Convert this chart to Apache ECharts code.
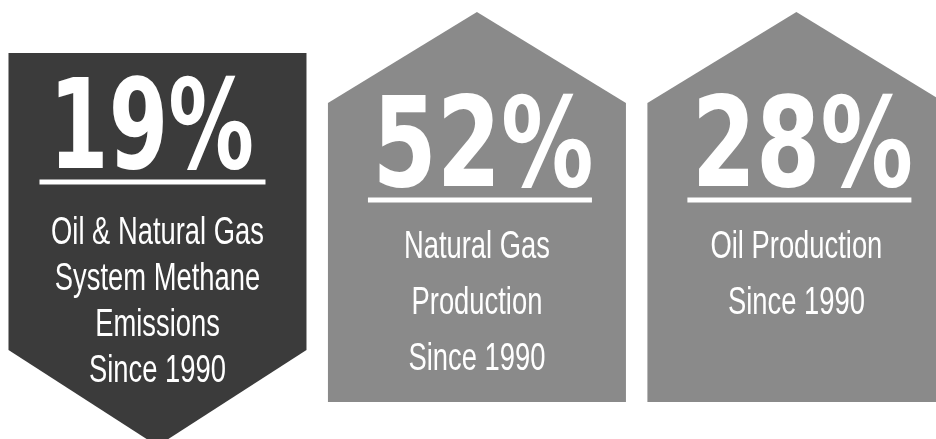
<!DOCTYPE html>
<html>
<head>
<meta charset="utf-8">
<style>
  html, body { margin: 0; padding: 0; background: #ffffff; }
  #chart { width: 936px; height: 439px; }
</style>
<script src="https://cdn.jsdelivr.net/npm/echarts@6/dist/echarts.min.js"></script>
</head>
<body>
<div id="chart"></div>
<script>
// Percentage change since 1990 for each indicator
const categories = ['Methane Emissions', 'Natural Gas Production', 'Oil Production'];
const percentChange = [19, 52, 28];
const captions = [
  ['Oil & Natural Gas', 'System Methane', 'Emissions', 'Since 1990'],
  ['Natural Gas', 'Production', 'Since 1990'],
  ['Oil Production', 'Since 1990']
];
// Badge shape: 'down' = chevron pointing down, 'up' = house-like pointing up
const shapes = ['down', 'up', 'up'];

const fills = { down: '#3b3b3b', up: '#8a8a8a' };

// Per-badge layout in pixels
const layout = {
  down: { top: 53, shoulder: 350, tip: 446, half: 149,
          numTop: 74, numDx: -6, numScale: 0.69, ruleY: 182, ruleHalf: 113, ruleDx: -5,
          capTop: 215, capGap: 46 },
  up:   { top: 12, shoulder: 103, tip: 402, half: 149,
          numTop: 92, numDx: 6, numScale: 0.745, ruleY: 200, ruleHalf: 112, ruleDx: 3,
          capTop: 229, capGap: 56 }
};

const chart = echarts.init(document.getElementById('chart'), null, { renderer: 'canvas' });

function renderBadge(params, api) {
  const i = params.dataIndex;
  const kind = shapes[i];
  const L = layout[kind];
  const cx = api.coord([api.value(0), 0])[0];
  let points;
  if (kind === 'down') {
    points = [[cx - L.half, L.top], [cx + L.half, L.top], [cx + L.half, L.shoulder],
              [cx, L.tip], [cx - L.half, L.shoulder]];
  } else {
    points = [[cx, L.top], [cx + L.half, L.shoulder], [cx + L.half, L.tip],
              [cx - L.half, L.tip], [cx - L.half, L.shoulder]];
  }
  const children = [{
    type: 'polygon',
    shape: { points: points },
    style: { fill: fills[kind] }
  }, {
    type: 'text',
    x: cx + L.numDx, y: L.numTop,
    scaleX: L.numScale,
    style: {
      x: 0, y: 0,
      text: api.value(1) + '%',
      fill: '#ffffff',
      font: 'bold 124px "DejaVu Sans"',
      align: 'center',
      verticalAlign: 'top'
    }
  }, {
    type: 'rect',
    shape: { x: cx + L.ruleDx - L.ruleHalf, y: L.ruleY - 2.5, width: L.ruleHalf * 2, height: 5 },
    style: { fill: '#ffffff' }
  }];
  captions[i].forEach(function (line, k) {
    children.push({
      type: 'text',
      x: cx, y: L.capTop + k * L.capGap,
      scaleX: 0.72,
      style: {
        x: 0, y: 0,
        text: line,
        fill: '#ffffff',
        font: '38px "Liberation Sans"',
        align: 'center',
        verticalAlign: 'top'
      }
    });
  });
  return { type: 'group', children: children };
}

chart.setOption({
  animation: false,
  backgroundColor: '#ffffff',
  grid: { left: 0, right: 0, top: 0, bottom: 0 },
  // badge index axis: one unit per badge, spaced 319.5px apart
  xAxis: { type: 'value', min: -0.493, max: 2.437, show: false },
  yAxis: { type: 'value', min: 0, max: 100, show: false },
  series: [{
    type: 'custom',
    renderItem: renderBadge,
    encode: { x: 0, y: 1 },
    data: percentChange.map(function (v, i) { return [i, v]; })
  }]
});
</script>
</body>
</html>
